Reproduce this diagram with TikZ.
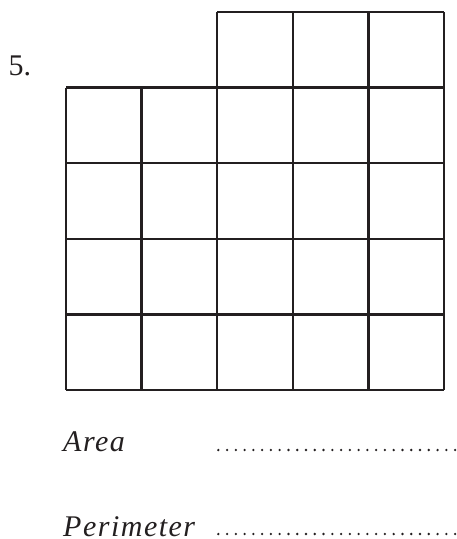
\documentclass[tikz,border=0pt]{standalone}
\usepackage{fontspec}
\setmainfont{Liberation Serif}
\definecolor{ink}{HTML}{231F20}
\begin{document}
\begin{tikzpicture}[x=1pt,y=-1pt,
  gridline/.style={draw=ink,line width=2.3pt},
  dotfill/.style={fill=ink},
  label/.style={inner sep=0pt,anchor=base west,text=ink,text depth=0pt}]
\useasboundingbox (0,0) rectangle (457,539);
\def\c{75.6}
% main 5x4 block
\foreach \i in {0,...,5}{
  \draw[gridline] ({66+\i*\c},{12+\c}) -- ({66+\i*\c},{12+5*\c});
}
\foreach \j in {1,...,5}{
  \draw[gridline] (66,{12+\j*\c}) -- ({66+5*\c},{12+\j*\c});
}
% top row of 3 cells
\foreach \i in {2,...,5}{
  \draw[gridline] ({66+\i*\c},12) -- ({66+\i*\c},{12+\c});
}
\draw[gridline] ({66+2*\c},12) -- ({66+5*\c},12);
% texts
\node[label,font=\fontsize{30}{34}\selectfont] (num) at (8.5,75) {5.};
\node[label,font=\fontsize{30}{34}\selectfont\itshape\addfontfeature{LetterSpace=5}] (area) at (63,451.7) {Area};
\node[label,font=\fontsize{30}{34}\selectfont\itshape\addfontfeature{LetterSpace=5}] (per) at (63,536) {Perimeter};
% dotted answer lines
\foreach \k in {0,...,27}{
  \fill[dotfill] ({218.3+\k*8.77},450) circle (1.3);
  \fill[dotfill] ({218.3+\k*8.77},534) circle (1.3);
}
\end{tikzpicture}
\end{document}
